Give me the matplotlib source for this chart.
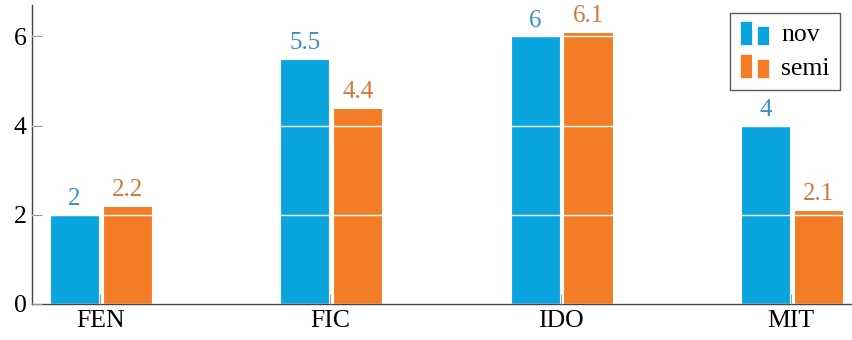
import numpy as np
import matplotlib.pyplot as plt
from matplotlib.patches import Rectangle
from matplotlib.legend_handler import HandlerBase

plt.rcParams['font.family'] = ['Liberation Serif', 'DejaVu Serif']

categories = ['FEN', 'FIC', 'IDO', 'MIT']
nov = [2, 5.5, 6, 4]
semi = [2.2, 4.4, 6.1, 2.1]

blue = '#0aa5df'
orange = '#f47c25'
blue_txt = '#3d8fc2'
orange_txt = '#d4783a'


class TwoBarHandler(HandlerBase):
    # small two-bar glyph for the legend entries
    def create_artists(self, legend, orig_handle, xd, yd, width, height, fontsize, trans):
        c = orig_handle.get_facecolor()
        w = width * 0.38
        r1 = Rectangle((xd, yd - height * 0.2), w, height * 1.35, facecolor=c,
                       edgecolor='white', lw=0.5, transform=trans)
        r2 = Rectangle((xd + width * 0.55, yd - height * 0.2), w, height * 1.05, facecolor=c,
                       edgecolor='white', lw=0.5, transform=trans)
        return [r1, r2]


fig = plt.figure(figsize=(8.53, 3.40), dpi=100)
ax = fig.add_axes([0.0375, 0.106, 0.96, 0.879])

x = np.arange(len(categories))
w = 0.213
b1 = ax.bar(x - 0.1115, nov, w, color=blue, edgecolor='white', linewidth=0.8, label='nov')
b2 = ax.bar(x + 0.1185, semi, w, color=orange, edgecolor='white', linewidth=0.8, label='semi')

for xi, v in zip(x - 0.1115, nov):
    ax.text(xi, v + 0.22, f'{v:g}', ha='center', va='baseline', color=blue_txt, fontsize=18)
for xi, v in zip(x + 0.1185, semi):
    ax.text(xi, v + 0.22, f'{v:g}', ha='center', va='baseline', color=orange_txt, fontsize=18)

ax.set_xlim(-0.296, 3.26)
ax.set_ylim(0, 6.7)
ax.set_yticks([0, 2, 4, 6])
ax.set_xticks(x)
ax.set_xticklabels(categories)
ax.tick_params(axis='both', direction='in', labelsize=18.5, color='#999999', length=7, width=0.8)
ax.tick_params(axis='x', pad=4)
ax.tick_params(axis='y', pad=4)

ax.grid(axis='y', color='white', linewidth=1.0)
ax.set_axisbelow(False)

for s in ['top', 'right']:
    ax.spines[s].set_visible(False)
for s in ['left', 'bottom']:
    ax.spines[s].set_color('#444444')
    ax.spines[s].set_linewidth(1.0)

leg = ax.legend(handles=[b1[0], b2[0]], labels=['nov', 'semi'],
                handler_map={Rectangle: TwoBarHandler()},
                loc='upper right', bbox_to_anchor=(0.987, 0.973), borderaxespad=0,
                fontsize=18.5, frameon=True, fancybox=False, edgecolor='#333333',
                handlelength=1.2, handletextpad=0.4, borderpad=0.4, labelspacing=0.4)
leg.get_frame().set_linewidth(1.0)

fig.savefig('out.png', dpi=100)
